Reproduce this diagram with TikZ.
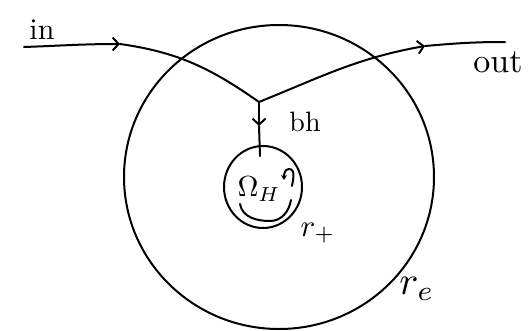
\documentclass[tikz,border=0pt]{standalone}
\usetikzlibrary{arrows.meta}
\begin{document}
\begin{tikzpicture}[x=1pt,y=-1pt,
  pen/.style={line width=2pt,line cap=round,line join=round},
  tip/.style={-{Straight Barb[length=6pt,width=13pt,line width=2pt]}},
  lbl/.style={inner sep=0pt}]
\useasboundingbox (0,0) rectangle (531,330);
% horizon circles
\draw[pen] (279,177) ellipse (155 and 152);
\draw[pen] (263,187) ellipse (39 and 41);
% coordinates
\coordinate (inStart) at (24,47);
\coordinate (inArrow) at (120,44);
\coordinate (J) at (259,102);
\coordinate (bhArrow) at (259,126);
\coordinate (bhEnd) at (260,156);
\coordinate (outArrow) at (425,46);
\coordinate (outEnd) at (505,42);
% paths
\draw[pen,tip] (inStart) to[out=2,in=180] (inArrow);
\draw[pen] (inArrow) to[out=-8,in=145] (J);
\draw[pen,tip] (J) -- (bhArrow);
\draw[pen] (bhArrow) -- (bhEnd);
\draw[pen,tip] (J) to[out=22,in=190] (outArrow);
\draw[pen] (outArrow) to[out=5,in=180] (outEnd);
% smile and rotation arrow
\draw[pen] (240,204) to[out=-80,in=180] (270,221) to[out=0,in=-100] (291,200);
\draw[pen,-{Stealth[length=5pt,width=6pt]}] (292,186) to[out=80,in=0] (289,169) to[out=180,in=90] (284,180);
% labels
\node[lbl,scale=3.0,anchor=base] (in) at (42,39) {in};
\node[lbl,scale=3.4,anchor=base] (out) at (498,72) {out};
\node[lbl,scale=2.8,anchor=base] (bh) at (305,131) {bh};
\node[lbl,scale=2.9] (Om) at (259,189) {$\Omega_H$};
\node[lbl,scale=3.1] (rp) at (318,233) {$r_+$};
\node[lbl,scale=4.0] (re) at (417,289) {$r_e$};
\end{tikzpicture}
\end{document}
